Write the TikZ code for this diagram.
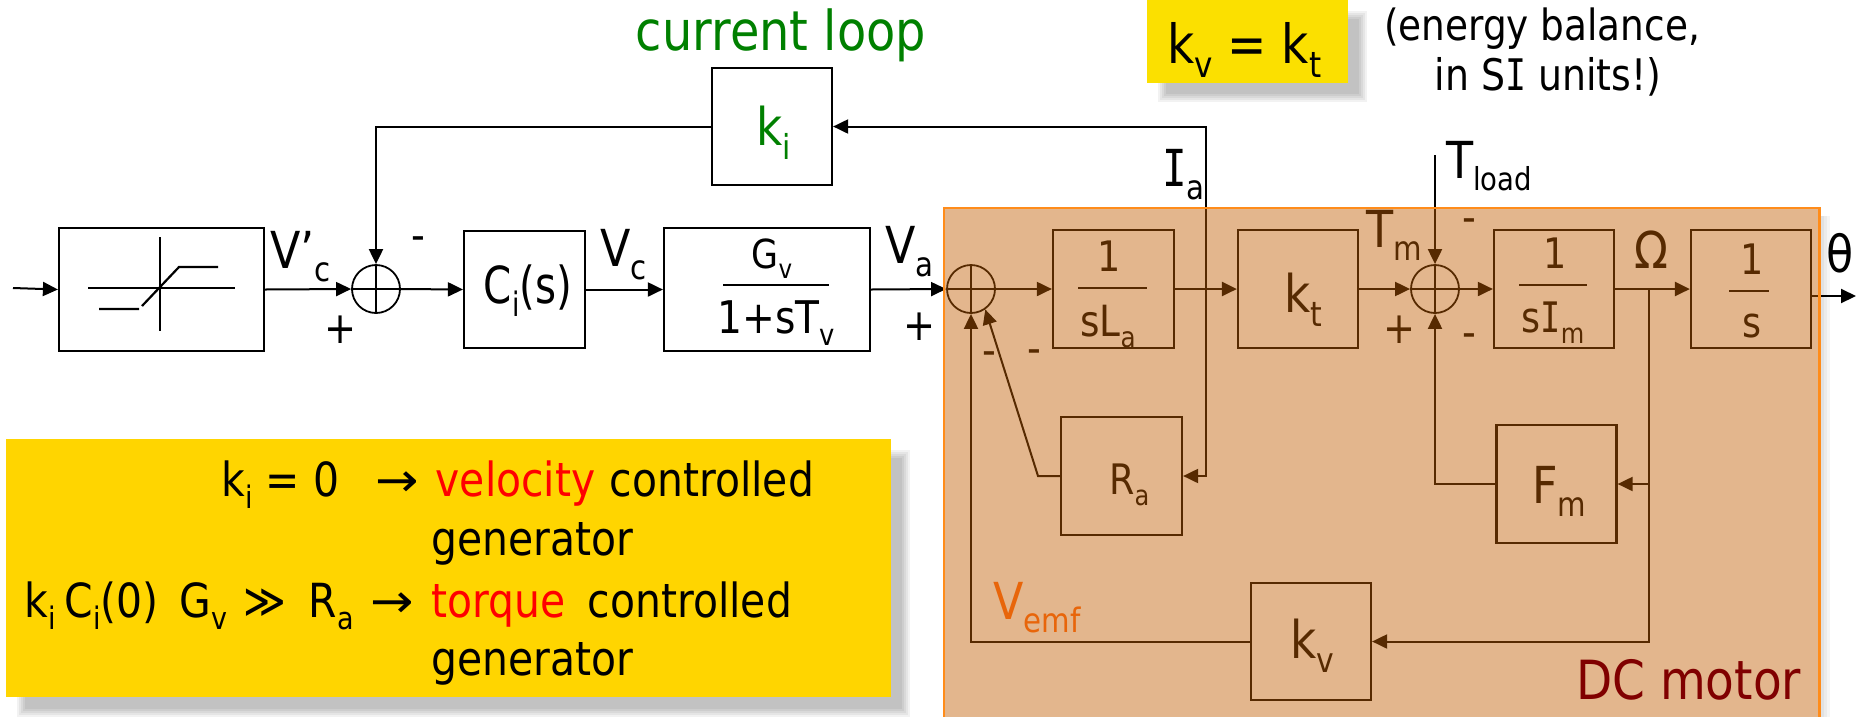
\documentclass[tikz,border=0pt]{standalone}
\usepackage{fontspec}
\usepackage{graphicx}
\usetikzlibrary{arrows.meta}
\setmainfont{DejaVu Sans}[FakeStretch=0.87]
\newfontfamily\Ifont{DejaVu Sans Mono}[FakeStretch=0.8]
\newcommand{\capI}{{\Ifont I}}
\newcommand{\fsz}[1]{\fontsize{#1}{#1}\selectfont}
\newcommand{\sbs}[1]{\raisebox{-.27em}{\scalebox{.66}{#1}}}
\newcommand{\tabat}[2]{\makebox[0pt][l]{\hspace*{#1}#2}}
\newcommand{\longarrow}{\scalebox{1.27}[1]{→}}
\newcommand{\softshadow}[4]{\foreach \i in {0,1,2,3,4}{\fill[black,opacity=.05] (#1-4+2*\i,#2-4+2*\i) rectangle (#3+4-2*\i,#4+4-2*\i);}}
\definecolor{motorfill}{HTML}{C15F04}
\definecolor{motoredge}{HTML}{FF8C1A}
\definecolor{vemfc}{HTML}{E8650A}
\definecolor{bigy}{HTML}{FFD500}
\definecolor{smally}{HTML}{FBE000}
\definecolor{dcred}{HTML}{800000}
\definecolor{loopg}{HTML}{008000}
\tikzset{
  blk/.style={draw=black,line width=2.2pt,inner sep=0pt,rectangle,fill=none},
  sumj/.style={draw=black,line width=1.8pt,circle,inner sep=0pt,minimum size=48pt},
  wire/.style={line width=2pt,draw=black},
  arr/.style={wire,-{Triangle[length=15pt,width=14pt]}},
  fbar/.style={line width=2.2pt},
  lbl/.style={anchor=base west,inner sep=0pt,font=\fsz{51}},
  clbl/.style={anchor=base,inner sep=0pt,font=\fsz{42}},
  signmark/.style={inner sep=0pt,anchor=center,font=\fsz{44}},
}
\begin{document}
\begin{tikzpicture}[x=1pt,y=-1pt]
\clip (0,0) rectangle (1856,716);
\fill[white] (0,0) rectangle (1856,716);
% shadows
\softshadow{1162}{15}{1363}{98}
\softshadow{21}{454}{906}{713}
\foreach \i in {0,1,2}{\fill[black,opacity=.04] (1820,216) rectangle (1830-\i*3,730);}
% yellow panels
\fill[smally] (1147,0) rectangle (1348,83);
\fill[bigy] (6,439) rectangle (891,697);
% blocks
\node[blk,minimum width=205pt,minimum height=123pt] (sat) at (161.5,289.5) {};
\node[sumj] (sa) at (376,289) {};
\node[blk,minimum width=121pt,minimum height=117pt] (ci) at (524.5,289.5) {};
\node[blk,minimum width=206pt,minimum height=123pt] (gv) at (767,289.5) {};
\node[blk,minimum width=120pt,minimum height=117pt] (ki) at (772,126.5) {};
\node[sumj] (sb) at (971,289) {};
\node[blk,minimum width=121pt,minimum height=118pt] (sla) at (1113.5,289) {};
\node[blk,minimum width=120pt,minimum height=118pt] (kt) at (1298,289) {};
\node[sumj] (sc) at (1435,289) {};
\node[blk,minimum width=120pt,minimum height=118pt] (sim) at (1554,289) {};
\node[blk,minimum width=120pt,minimum height=118pt] (si) at (1751,289) {};
\node[blk,minimum width=121pt,minimum height=118pt] (ra) at (1121.5,476) {};
\node[blk,minimum width=120pt,minimum height=118pt] (fm) at (1556.5,484) {};
\node[blk,minimum width=120pt,minimum height=117pt] (kv) at (1311,641.5) {};
% summing crosses
\foreach \s in {sa,sb,sc}{\draw[line width=1.6pt] (\s.north)--(\s.south) (\s.west)--(\s.east);}
% saturation curve
\draw[line width=2.4pt] (160,237)--(160,331) (88,288)--(235,288);
\draw[line width=2.2pt] (99,309)--(139,309) (142,306)--(179,267)--(218,267);
% coordinates
\coordinate (inp) at (13,288);
\coordinate (ja) at (1206,289);
\coordinate (jo) at (1649,289);
\coordinate (tl) at (1435,155);
\coordinate (bend) at (1038,476);
\coordinate (thfrom) at (1811,296);
\coordinate (thto) at (1856,296);
% connectors
\draw[arr] (inp)--(sat.west);
\draw[arr] (sat.east)--(sa.west);
\draw[arr] (sa.east)--(ci.west);
\draw[arr] (ci.east)--(gv.west);
\draw[arr] (gv.east)--(sb.west);
\draw[arr] (sb.east)--(sla.west);
\draw[arr,line width=2.6pt] (sla.east)--(kt.west);
\draw[arr] (kt.east)--(sc.west);
\draw[arr] (sc.east)--(sim.west);
\draw[arr,line width=2.6pt] (sim.east)--(si.west);
\draw[arr] (thfrom)--(thto);
\draw[arr] (ki.west)-|(sa.north);
\draw[arr] (ja)|-(ki.east);
\draw[arr] (ja)|-(ra.east);
\draw[arr] (ra.west)--(bend)--(sb.-55);
\draw[arr] (kv.west)-|(sb.south);
\draw[arr] (tl)--(sc.north);
\draw[arr] (fm.west)-|(sc.south);
\draw[arr] (jo)|-(fm.east);
\draw[arr] (jo)|-(kv.east);
% fraction bars
\coordinate (b1a) at (723,285); \coordinate (b1b) at (829,285);
\coordinate (b2a) at (1078,288); \coordinate (b2b) at (1147,288);
\coordinate (b3a) at (1519,285); \coordinate (b3b) at (1587,285);
\coordinate (b4a) at (1729,291); \coordinate (b4b) at (1769,291);
\draw[fbar] (b1a)--(b1b) (b2a)--(b2b) (b3a)--(b3b) (b4a)--(b4b);
% labels outside / under overlay
\node[lbl] (lvpc) at (270,268) {V’\sbs{c}};
\node[signmark] (m1) at (418,244) {-};
\node[signmark] (p1) at (341,330) {+};
\node[lbl] (lvc) at (600,266) {V\sbs{c}};
\node[lbl] (lva) at (885,263) {V\sbs{a}};
\node[signmark] (p2) at (920,327) {+};
\node[lbl] (lia) at (1162,186) {\capI\sbs{a}};
\node[lbl] (ltl) at (1446,178) {T\raisebox{-.25em}{\scalebox{.62}{load}}};
\node[clbl,font=\fsz{51}] (lci) at (528,303) {\scalebox{.91}[1]{C\sbs{i}(s)}};
\node[clbl,font=\fsz{40}] (lg) at (772,268) {G\sbs{v}};
\node[clbl,font=\fsz{45}] (lg2) at (776,333) {1+sT\sbs{v}};
\node[clbl] (l1a) at (1109,271) {1};
\node[clbl,font=\fsz{43}] (l1b) at (1108,336) {sL\sbs{a}};
\node[clbl,font=\fsz{52}] (lkt) at (1303,312) {k\sbs{t}};
\node[lbl,anchor=base,font=\fsz{51}] (ltm) at (1394,247) {T\sbs{m}};
\node[clbl] (l2a) at (1555,268) {1};
\node[clbl] (l2b) at (1553,332) {s\capI\sbs{m}};
\node[clbl] (l3a) at (1752,274) {1};
\node[clbl] (l3b) at (1752,337) {s};
\node[lbl,anchor=base] (lom) at (1651,268) {Ω};
\node[lbl] (lth) at (1826,272) {θ};
\node[signmark] (m2) at (1469,226) {-};
\node[signmark] (m3) at (1469,341) {-};
\node[signmark] (p3) at (1400,330) {+};
\node[signmark] (m4) at (989,359) {-};
\node[signmark] (m5) at (1034,357) {-};
\node[lbl,font=\fsz{42}] (lra) at (1109,494) {R\sbs{a}};
\node[lbl] (lfm) at (1532,503) {F\sbs{m}};
\node[lbl,font=\fsz{52}] (lkv) at (1290,658) {k\sbs{v}};
% motor overlay
\fill[motorfill,opacity=.45] (944,208) rectangle (1819.5,730);
\draw[motoredge,line width=2.2pt] (944,730)--(944,208)--(1819.5,208)--(1819.5,730);
\node[lbl,text=vemfc] (lve) at (993,619) {V\sbs{emf}};
\node[lbl,text=dcred,font=\fsz{54}] (ldc) at (1576,699) {DC motor};
% free text
\node[clbl,text=loopg,font=\fsz{55}] (lloop) at (781,50) {current loop};
\node[lbl,text=loopg,font=\fsz{52}] (lki) at (756,145) {k\sbs{i}};
\node[lbl,font=\fsz{54}] (lkeq) at (1167,63) {k\sbs{v} = k\sbs{t}};
\node[clbl,font=\fsz{43}] (le1) at (1542,40) {(energy balance,};
\node[clbl,font=\fsz{43.5}] (le2) at (1548,90) {in S\capI{} units!)};
\node[lbl,font=\fsz{47}] (y1) at (221,496) {\tabat{0pt}{k\sbs{i} = 0}\tabat{154pt}{\longarrow}\tabat{214pt}{\textcolor{red}{velocity}}\tabat{388pt}{controlled}};
\node[lbl,font=\fsz{47}] (y2) at (431,555) {generator};
\node[lbl,font=\fsz{47}] (y3) at (24,617) {\tabat{0pt}{k\sbs{i}}\tabat{40pt}{C\sbs{i}(0)}\tabat{155pt}{G\sbs{v}}\tabat{219pt}{≫}\tabat{284pt}{R\sbs{a}}\tabat{346pt}{\longarrow}\tabat{407pt}{\textcolor{red}{torque}}\tabat{563pt}{controlled}};
\node[lbl,font=\fsz{47}] (y4) at (431,675) {generator};
\end{tikzpicture}
\end{document}
